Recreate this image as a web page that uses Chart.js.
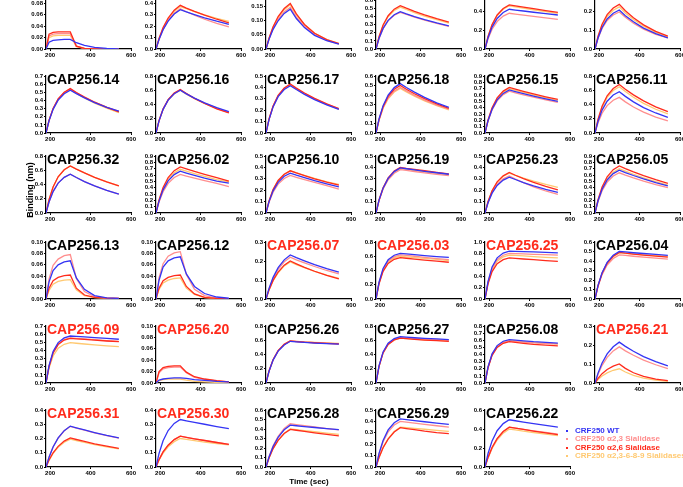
<!DOCTYPE html>
<html><head><meta charset="utf-8">
<script src="https://cdn.jsdelivr.net/npm/chart.js@4.4.0/dist/chart.umd.min.js"></script>
<style>
html,body{margin:0;padding:0;background:#fff;}
#stage{position:relative;width:683px;height:487px;overflow:hidden;background:#fff;font-family:"Liberation Sans",Arial,sans-serif;}
#stage canvas{position:absolute;}
.ttl{position:absolute;font-weight:bold;font-size:14px;line-height:14px;white-space:nowrap;color:#000;}
.axt{position:absolute;font-weight:bold;white-space:nowrap;color:#000;}
.leg{position:absolute;font-weight:bold;font-size:8px;line-height:8px;white-space:nowrap;}
.dot{position:absolute;width:2px;height:2px;}
</style></head><body><div id="stage"></div>
<script>
// ---------------- data ----------------
const times = [180, 195, 215, 240, 270, 300, 330, 370, 420, 480, 540];
const xTicks = [200, 400, 600];
const titles = ['', '', '', '', '', '',
  'CAP256.14', 'CAP256.16', 'CAP256.17', 'CAP256.18', 'CAP256.15', 'CAP256.11',
  'CAP256.32', 'CAP256.02', 'CAP256.10', 'CAP256.19', 'CAP256.23', 'CAP256.05',
  'CAP256.13', 'CAP256.12', 'CAP256.07', 'CAP256.03', 'CAP256.25', 'CAP256.04',
  'CAP256.09', 'CAP256.20', 'CAP256.26', 'CAP256.27', 'CAP256.08', 'CAP256.21',
  'CAP256.31', 'CAP256.30', 'CAP256.28', 'CAP256.29', 'CAP256.22'];
const titleRed = [0,0,0,0,0,0, 0,0,0,0,0,0, 0,0,0,0,0,0, 0,0,1,1,1,0, 1,1,0,0,0,1, 1,1,0,0,0];
const yMax  = [0.10,0.5,0.20,0.7,0.6,0.3, 0.7,0.8,0.5,0.6,0.9,0.8, 0.8,0.9,0.5,0.5,0.5,0.9, 0.10,0.10,0.3,0.8,1.0,0.6, 0.7,0.10,0.8,0.8,0.8,0.3, 0.4,0.4,0.6,0.5,0.6];
const yStep = [0.02,0.1,0.05,0.1,0.2,0.1, 0.1,0.2,0.1,0.1,0.1,0.2, 0.2,0.1,0.1,0.1,0.1,0.1, 0.02,0.02,0.1,0.2,0.2,0.1, 0.1,0.02,0.2,0.2,0.1,0.1, 0.1,0.1,0.1,0.1,0.2];
const legendLabels = ['CRF250 WT', 'CRF250 \u03b12,3 Sialidase', 'CRF250 \u03b12,6 Sialidase', 'CRF250 \u03b12,3-6-8-9 Sialidases'];

// CRF250 WT
const wt = [
 [0,.012,.015,.016,.017,.017,.011,.0065,.003,.001,.0003],
 [0,.083,.169,.245,.307,.345,.326,.302,.274,.244,.217],
 [0,.034,.069,.099,.125,.140,.107,.075,.048,.029,.017],
 [0,.131,.253,.352,.421,.458,.431,.398,.360,.320,.284],
 [0,.119,.231,.321,.384,.418,.410,.400,.387,.372,.358],
 [0,.058,.113,.158,.188,.205,.175,.143,.110,.081,.059],
 [0,.150,.290,.404,.482,.525,.483,.431,.374,.315,.270],
 [0,.171,.332,.461,.551,.600,.550,.490,.424,.357,.300],
 [0,.118,.229,.319,.381,.415,.381,.339,.293,.247,.207],
 [0,.148,.288,.400,.478,.520,.479,.430,.375,.318,.270],
 [0,.194,.376,.523,.625,.680,.654,.622,.583,.540,.500],
 [0,.165,.321,.446,.533,.580,.514,.437,.357,.281,.220],
 [0,.155,.301,.419,.501,.545,.498,.441,.380,.317,.265],
 [0,.188,.365,.508,.607,.660,.631,.595,.552,.505,.470],
 [0,.100,.194,.269,.322,.350,.332,.310,.284,.256,.230],
 [0,.113,.218,.304,.363,.395,.388,.378,.366,.353,.340],
 [0,.090,.174,.242,.289,.315,.294,.267,.238,.207,.180],
 [0,.193,.374,.521,.622,.677,.639,.592,.538,.479,.430],
 [0,.030,.050,.060,.065,.067,.037,.017,.006,.002,.001],
 [0,.033,.056,.067,.072,.074,.044,.022,.0096,.0035,.0013],
 [0,.056,.114,.165,.206,.232,.218,.201,.181,.160,.141],
 [0,.237,.429,.550,.614,.640,.632,.623,.610,.596,.585],
 [0,.311,.563,.722,.806,.840,.836,.831,.825,.818,.810],
 [0,.143,.277,.385,.460,.500,.495,.487,.479,.470,.460],
 [0,.213,.387,.496,.554,.577,.572,.566,.558,.547,.537],
 [0,.005,.007,.008,.009,.009,.008,.006,.0045,.003,.002],
 [0,.165,.321,.447,.533,.585,.578,.570,.561,.553,.545],
 [0,.241,.436,.559,.624,.650,.643,.635,.626,.618,.610],
 [0,.226,.409,.525,.586,.610,.602,.592,.580,.570,.560],
 [0,.052,.105,.153,.191,.215,.193,.167,.139,.112,.090],
 [0,.069,.141,.204,.255,.287,.275,.260,.242,.222,.204],
 [0,.095,.184,.256,.306,.333,.324,.313,.300,.284,.269],
 [0,.106,.216,.312,.392,.440,.434,.426,.416,.404,.393],
 [0,.120,.233,.325,.388,.422,.416,.407,.397,.385,.373],
 [0,.142,.275,.382,.457,.497,.487,.473,.457,.438,.420]
];
// CRF250 a2,3 Sialidase
const s23 = [
 [0,.023,.026,.027,.027,.027,.005,.001,0,0,0],
 [0,.084,.172,.250,.313,.352,.327,.296,.261,.225,.194],
 [0,.035,.072,.104,.130,.146,.112,.079,.051,.030,.018],
 [0,.128,.249,.346,.414,.450,.424,.392,.354,.315,.279],
 [0,.107,.208,.289,.346,.376,.367,.356,.343,.327,.312],
 [0,.056,.108,.150,.179,.195,.167,.136,.105,.077,.058],
 [0,.154,.299,.415,.496,.540,.494,.440,.380,.318,.265],
 [0,.172,.335,.465,.556,.605,.552,.488,.419,.349,.290],
 [0,.121,.235,.327,.391,.425,.390,.347,.300,.253,.212],
 [0,.137,.265,.369,.441,.480,.443,.396,.346,.294,.250],
 [0,.188,.365,.508,.607,.660,.635,.603,.566,.524,.485],
 [0,.143,.277,.385,.460,.500,.437,.365,.292,.223,.170],
 [0,.155,.301,.419,.501,.545,.498,.441,.380,.317,.265],
 [0,.174,.337,.469,.561,.610,.583,.550,.511,.467,.416],
 [0,.094,.182,.254,.303,.330,.313,.292,.268,.241,.210],
 [0,.108,.210,.292,.349,.380,.373,.364,.352,.339,.327],
 [0,.093,.180,.250,.299,.325,.298,.266,.230,.193,.163],
 [0,.181,.351,.488,.584,.635,.599,.555,.504,.449,.400],
 [0,.035,.059,.070,.076,.078,.036,.013,.004,.002,.001],
 [0,.037,.062,.075,.081,.083,.043,.017,.006,.0016,.0005],
 [0,.053,.108,.156,.196,.220,.206,.190,.171,.150,.132],
 [0,.229,.415,.533,.595,.620,.611,.600,.585,.568,.552],
 [0,.296,.536,.688,.768,.800,.796,.790,.784,.777,.770],
 [0,.133,.257,.358,.427,.465,.459,.450,.440,.430,.420],
 [0,.205,.372,.477,.533,.555,.549,.541,.532,.521,.510],
 [0,.018,.025,.027,.028,.028,.018,.010,.0065,.0035,.002],
 [0,.168,.326,.454,.542,.590,.583,.574,.566,.558,.550],
 [0,.237,.429,.550,.614,.640,.633,.625,.616,.608,.600],
 [0,.218,.395,.507,.566,.590,.582,.573,.563,.556,.550],
 [0,.046,.093,.135,.169,.190,.169,.146,.120,.096,.076],
 [0,.068,.140,.202,.254,.285,.273,.258,.240,.220,.202],
 [0,.052,.106,.153,.192,.216,.208,.198,.186,.172,.159],
 [0,.109,.223,.323,.405,.455,.446,.435,.421,.405,.390],
 [0,.114,.221,.308,.368,.400,.394,.385,.374,.362,.350],
 [0,.101,.206,.298,.374,.420,.410,.397,.381,.363,.345]
];
// CRF250 a2,6 Sialidase
const s26 = [
 [0,.026,.029,.030,.030,.030,.005,.001,0,0,0],
 [0,.092,.188,.272,.341,.383,.359,.330,.297,.261,.230],
 [0,.038,.078,.114,.142,.160,.123,.086,.055,.033,.019],
 [0,.152,.294,.409,.489,.532,.501,.463,.419,.372,.330],
 [0,.133,.257,.358,.427,.465,.454,.440,.424,.405,.386],
 [0,.067,.130,.181,.216,.235,.201,.164,.127,.093,.068],
 [0,.155,.301,.419,.501,.545,.497,.440,.378,.314,.260],
 [0,.174,.337,.469,.561,.610,.554,.486,.414,.340,.281],
 [0,.123,.238,.331,.395,.430,.394,.351,.304,.256,.215],
 [0,.143,.277,.385,.460,.500,.461,.413,.361,.306,.260],
 [0,.205,.398,.554,.662,.720,.693,.658,.617,.572,.530],
 [0,.194,.376,.523,.625,.680,.613,.535,.451,.367,.300],
 [0,.188,.365,.508,.607,.660,.616,.562,.500,.436,.380],
 [0,.207,.403,.560,.669,.728,.696,.656,.609,.557,.505],
 [0,.105,.205,.285,.340,.370,.351,.328,.300,.271,.245],
 [0,.114,.221,.308,.368,.400,.392,.383,.371,.357,.344],
 [0,.101,.196,.273,.326,.355,.331,.301,.268,.233,.203],
 [0,.212,.411,.572,.684,.744,.702,.650,.591,.526,.469],
 [0,.019,.032,.038,.041,.042,.019,.007,.003,.0015,.001],
 [0,.019,.032,.038,.041,.042,.022,.009,.003,.001,.0003],
 [0,.048,.098,.142,.178,.200,.185,.166,.146,.124,.106],
 [0,.215,.389,.499,.557,.580,.572,.561,.547,.531,.516],
 [0,.266,.482,.619,.691,.720,.713,.702,.690,.675,.660],
 [0,.140,.271,.377,.450,.490,.483,.473,.462,.451,.440],
 [0,.203,.368,.472,.527,.549,.543,.535,.526,.516,.507],
 [0,.020,.027,.029,.030,.030,.019,.011,.007,.004,.002],
 [0,.168,.326,.454,.542,.590,.582,.573,.565,.556,.548],
 [0,.233,.422,.542,.605,.630,.622,.613,.603,.594,.585],
 [0,.215,.389,.499,.557,.580,.570,.557,.543,.531,.520],
 [0,.024,.049,.071,.089,.100,.077,.054,.035,.020,.012],
 [0,.049,.100,.145,.182,.204,.193,.179,.163,.146,.130],
 [0,.052,.106,.153,.192,.216,.208,.198,.186,.172,.159],
 [0,.095,.194,.281,.352,.396,.387,.375,.360,.343,.327],
 [0,.083,.169,.245,.307,.345,.337,.327,.314,.301,.293],
 [0,.101,.206,.298,.374,.420,.409,.395,.378,.359,.340]
];
// CRF250 a2,3-6-8-9 Sialidases
const s2389 = [
 [0,.020,.023,.024,.024,.024,.004,.001,0,0,0],
 [0,.089,.182,.264,.331,.372,.353,.328,.300,.269,.242],
 [0,.037,.076,.110,.138,.155,.120,.085,.056,.033,.020],
 [0,.147,.285,.396,.473,.515,.485,.448,.405,.360,.319],
 [0,.130,.252,.350,.418,.455,.444,.430,.413,.394,.375],
 [0,.063,.123,.171,.204,.222,.190,.155,.120,.088,.064],
 [0,.152,.296,.411,.492,.535,.487,.430,.368,.305,.250],
 [0,.171,.332,.461,.551,.600,.546,.483,.415,.345,.285],
 [0,.120,.232,.323,.386,.420,.385,.343,.297,.250,.210],
 [0,.134,.260,.361,.432,.470,.433,.388,.339,.288,.244],
 [0,.200,.387,.538,.643,.700,.673,.640,.600,.556,.515],
 [0,.185,.359,.500,.597,.650,.582,.501,.416,.333,.267],
 [0,.188,.365,.508,.607,.660,.616,.562,.500,.436,.380],
 [0,.197,.382,.531,.634,.690,.660,.622,.578,.528,.490],
 [0,.105,.205,.285,.340,.370,.353,.330,.303,.274,.250],
 [0,.111,.216,.300,.358,.390,.383,.373,.362,.348,.335],
 [0,.100,.194,.269,.322,.350,.331,.307,.280,.251,.224],
 [0,.200,.387,.538,.643,.700,.661,.612,.556,.495,.442],
 [0,.015,.026,.031,.033,.034,.016,.006,.0025,.0012,.001],
 [0,.017,.028,.033,.036,.037,.019,.008,.0026,.0008,.0002],
 [0,.047,.096,.138,.174,.195,.181,.165,.146,.126,.109],
 [0,.222,.402,.516,.576,.600,.592,.582,.570,.556,.540],
 [0,.285,.516,.662,.739,.770,.764,.755,.744,.732,.720],
 [0,.138,.268,.373,.446,.485,.480,.472,.464,.457,.450],
 [0,.183,.332,.426,.475,.495,.488,.479,.468,.457,.446],
 [0,.004,.006,.007,.007,.007,.005,.003,.002,.001,.0005],
 [0,.168,.326,.454,.542,.590,.585,.577,.570,.563,.556],
 [0,.233,.422,.542,.605,.630,.623,.615,.606,.598,.590],
 [0,.222,.402,.516,.576,.600,.591,.580,.568,.556,.545],
 [0,.018,.037,.053,.067,.075,.058,.040,.026,.015,.009],
 [0,.047,.096,.138,.174,.195,.185,.172,.157,.141,.127],
 [0,.048,.098,.142,.178,.200,.194,.185,.175,.165,.155],
 [0,.096,.196,.284,.356,.400,.392,.383,.371,.357,.344],
 [0,.084,.172,.249,.312,.350,.345,.339,.331,.322,.313],
 [0,.096,.196,.284,.356,.400,.390,.378,.363,.347,.330]
];

// ---------------- layout / style ----------------
const COLS = [46, 156, 266, 376, 485, 595];   // y-axis x position per column
const ROWS = [49, 133, 213, 299, 383, 467];   // x-axis y position per row
const PW = 85, PH = 57;
const PADL = 22, PADT = 5, PADR = 10, PADB = 12;
const C_WT = '#3434f4', C_23 = '#ff8e8e', C_26 = '#ff2b1c', C_2389 = '#ffc971';
const C_TITLE_RED = '#ff2b1c';
const FONT = 'Liberation Sans, Arial, sans-serif';
const stage = document.getElementById('stage');

function ds(vals, color, order) {
  return {
    data: times.map((t, k) => ({x: t, y: vals[k]})),
    borderColor: color, backgroundColor: color, borderWidth: 1.3,
    pointRadius: 0, tension: 0, fill: false, order: order
  };
}

const tickFont = {size: 6, weight: 'bold', family: FONT};
for (let i = 0; i < titles.length; i++) {
  const r = Math.floor(i / 6), c = i % 6;
  const ax = COLS[c], ay = ROWS[r];
  const cv = document.createElement('canvas');
  cv.width = PADL + PW + PADR; cv.height = PADT + PH + PADB;
  cv.style.width = cv.width + 'px'; cv.style.height = cv.height + 'px';
  cv.style.left = (ax - PADL) + 'px'; cv.style.top = (ay - PH - PADT) + 'px';
  stage.appendChild(cv);
  const dec = yStep[i] < 0.1 ? 2 : 1;
  new Chart(cv, {
    type: 'line',
    data: {datasets: [ds(wt[i], C_WT, 0), ds(s26[i], C_26, 1), ds(s23[i], C_23, 2), ds(s2389[i], C_2389, 3)]},
    options: {
      responsive: false, animation: false, devicePixelRatio: 1, events: [],
      layout: {padding: {left: 0, top: PADT, right: PADR, bottom: 0}},
      plugins: {legend: {display: false}, tooltip: {enabled: false}, title: {display: false}},
      scales: {
        x: {
          type: 'linear', min: 180, max: 600,
          afterBuildTicks: a => { a.ticks = xTicks.map(v => ({value: v})); },
          afterFit: s => { s.height = PADB; },
          ticks: {autoSkip: false, maxRotation: 0, padding: 1, font: tickFont, color: '#000', callback: v => String(v)},
          grid: {drawOnChartArea: false, drawTicks: true, tickLength: 2, color: '#000', lineWidth: 1},
          border: {display: true, color: '#000', width: 1.2}
        },
        y: {
          type: 'linear', min: 0, max: yMax[i],
          afterFit: s => { s.width = PADL; },
          ticks: {autoSkip: false, stepSize: yStep[i], padding: 1, font: tickFont, color: '#000', callback: v => Number(v).toFixed(dec)},
          grid: {drawOnChartArea: false, drawTicks: true, tickLength: 2, color: '#000', lineWidth: 1},
          border: {display: true, color: '#000', width: 1.2}
        }
      }
    }
  });
  if (titles[i]) {
    const t = document.createElement('div');
    t.className = 'ttl';
    t.textContent = titles[i];
    t.style.left = (ax + 1) + 'px';
    t.style.top = (ay - PH - 4) + 'px';
    if (titleRed[i]) t.style.color = C_TITLE_RED;
    stage.appendChild(t);
  }
}

// axis titles
const yt = document.createElement('div');
yt.className = 'axt'; yt.textContent = 'Binding (nm)';
yt.style.fontSize = '9px'; yt.style.left = '30px'; yt.style.top = '190px';
yt.style.transform = 'translate(-50%,-50%) rotate(-90deg)';
stage.appendChild(yt);
const xt = document.createElement('div');
xt.className = 'axt'; xt.textContent = 'Time (sec)';
xt.style.fontSize = '8px'; xt.style.left = '309px'; xt.style.top = '481px';
xt.style.transform = 'translate(-50%,-50%)';
stage.appendChild(xt);

// legend
const legColors = [C_WT, C_23, C_26, C_2389];
const legY = [431, 439.3, 447.5, 455.7];
legendLabels.forEach((lab, k) => {
  const d = document.createElement('div');
  d.className = 'dot'; d.style.background = legColors[k];
  d.style.left = '566px'; d.style.top = (legY[k] - 1) + 'px';
  stage.appendChild(d);
  const t = document.createElement('div');
  t.className = 'leg'; t.textContent = lab; t.style.color = legColors[k];
  t.style.left = '575px'; t.style.top = (legY[k] - 4) + 'px';
  stage.appendChild(t);
});
</script></body></html>
